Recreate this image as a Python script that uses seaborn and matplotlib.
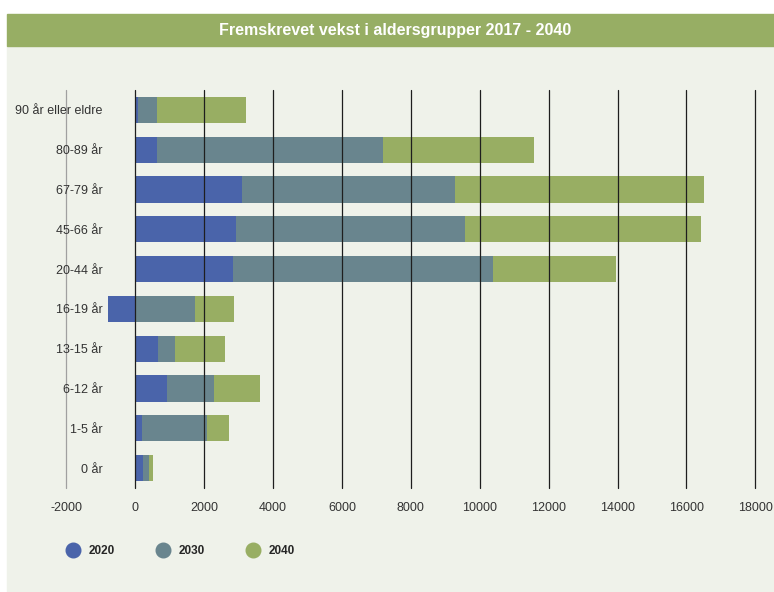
import numpy as np
import pandas as pd
import seaborn as sns
import matplotlib.pyplot as plt
from matplotlib.patches import Rectangle
from matplotlib.lines import Line2D

grupper = ['90 år eller eldre', '80-89 år', '67-79 år', '45-66 år', '20-44 år',
           '16-19 år', '13-15 år', '6-12 år', '1-5 år', '0 år']
v2020 = [90, 620, 3090, 2920, 2830, -780, 670, 910, 195, 215]
v2030 = [620, 7180, 9290, 9580, 10400, 1740, 1150, 2290, 2070, 400]
v2040 = [3230, 11590, 16510, 16430, 13970, 2880, 2620, 3610, 2710, 520]
aar = ['2020', '2030', '2040']
farger = {'2020': '#4a64aa', '2030': '#69858e', '2040': '#98ae63'}
xticks = [-2000, 0, 2000, 4000, 6000, 8000, 10000, 12000, 14000, 16000, 18000]

df = pd.DataFrame({
    'gruppe': grupper * 3,
    'år': ['2020'] * 10 + ['2030'] * 10 + ['2040'] * 10,
    'verdi': v2020 + v2030 + v2040,
})

sns.set_style('white')
plt.rcParams['font.family'] = ['Liberation Sans Narrow', 'Liberation Sans', 'DejaVu Sans']

fig = plt.figure(figsize=(7.74, 5.92), dpi=100)
W, H = 774, 592

# panel background and title bar
fig.patches.append(Rectangle((7 / W, 0), 1, 1 - 46 / H, transform=fig.transFigure,
                             color='#eff2ea', zorder=-2))
fig.patches.append(Rectangle((7 / W, 1 - 46 / H), 1, 32 / H, transform=fig.transFigure,
                             color='#97ae64', zorder=-2))
fig.text(395 / W, 1 - 30 / H, 'Fremskrevet vekst i aldersgrupper 2017 - 2040',
         ha='center', va='center', color='white', fontsize=11.5, fontweight='bold')

ax = fig.add_axes([66.3 / W, 1 - 488 / H, (755.3 - 66.3) / W, (488 - 90) / H])
ax.set_facecolor('none')

sns.barplot(data=df, x='verdi', y='gruppe', hue='år', hue_order=['2040', '2030', '2020'],
            order=grupper, palette=farger, dodge=False, width=0.66, orient='h',
            errorbar=None, legend=False, saturation=1, linewidth=0, ax=ax)

ax.set_xlim(-2000, 18000)
ax.set_xticks(xticks)
ax.set_xticklabels([str(t) for t in xticks], fontsize=9, color='#333333')
ax.set_xlabel('')
ax.set_ylabel('')
ax.tick_params(axis='y', length=0, pad=-26, labelsize=9, labelcolor='#333333')
ax.tick_params(axis='x', length=0, pad=10)
for s in ax.spines.values():
    s.set_visible(False)

ax.set_axisbelow(False)
ax.grid(axis='x', color='#1e1e1e', lw=0.9)
ax.grid(axis='y', visible=False)
for gl in ax.get_xgridlines():
    gl.set_clip_on(False)
ax.get_xgridlines()[0].set_color('#a0a0a0')

handles = [Line2D([], [], marker='o', ls='', ms=10.5, color=farger[a]) for a in aar]
fig.legend(handles, aar, loc='center left', bbox_to_anchor=(56 / W, 1 - 551 / H),
           ncol=3, frameon=False, handlelength=1, handletextpad=0.9,
           columnspacing=3.5, prop={'weight': 'bold', 'size': 8.5})

fig.savefig('out.png', dpi=100)
